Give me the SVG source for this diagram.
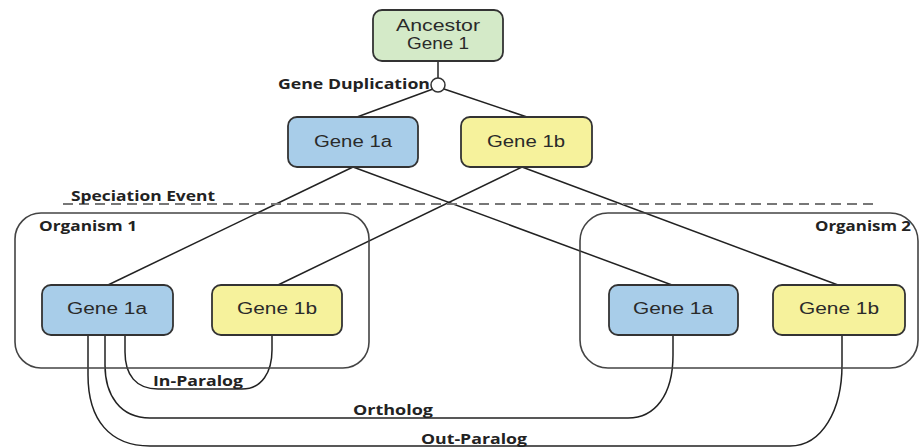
<svg xmlns="http://www.w3.org/2000/svg" width="921" height="447" viewBox="0 0 921 447">
  <style>
    .gene { stroke: #333; stroke-width: 1.8; }
    .anc { fill: #d4eac8; }
    .a { fill: #a8cde9; }
    .b { fill: #f6f29c; }
    .org { fill: none; stroke: #444; stroke-width: 1.6; }
    .link { fill: none; stroke: #222; stroke-width: 1.5; }
    .ntext { font-family: "Liberation Sans", Arial, sans-serif; font-size: 16px; fill: #2a2a2a; text-anchor: middle; }
    .lbl { font-family: "Open Sans", "Liberation Sans", sans-serif; font-weight: bold; font-size: 14px; fill: #222; }
  </style>

  <!-- connectors -->
  <g id="connectors">
    <line class="link" x1="438" y1="61" x2="438" y2="78"/>
    <line class="link" x1="433" y1="89" x2="357" y2="117"/>
    <line class="link" x1="444" y1="89" x2="527" y2="117"/>
    <line class="link" x1="353" y1="167" x2="108" y2="285"/>
    <line class="link" x1="353" y1="167" x2="672" y2="285"/>
    <line class="link" x1="522" y1="167" x2="278" y2="285"/>
    <line class="link" x1="522" y1="167" x2="838" y2="285"/>
    <!-- homology arcs -->
    <path class="link" d="M125,335 L125,352 C125,375 136,389 158,389 L242,389 C262,389 272,372 272,350 L272,335"/>
    <path class="link" d="M105,335 L105,365 C105,395 120,418 150,418 L628,418 C655,418 673,395 673,355 L673,335"/>
    <path class="link" d="M88,335 L88,375 C88,420 110,446 150,446 L790,446 C822,446 842,410 842,365 L842,335"/>
  </g>

  <!-- speciation divider -->
  <line x1="63" y1="204" x2="877" y2="204" stroke="#777" stroke-width="2" stroke-dasharray="10 6"/>
  <text class="lbl" x="71" y="201" textLength="144" lengthAdjust="spacingAndGlyphs">Speciation Event</text>

  <!-- organisms -->
  <g id="organism1">
    <rect class="org" x="15" y="213" width="354" height="155" rx="26"/>
    <text class="lbl" x="39" y="231" textLength="98" lengthAdjust="spacingAndGlyphs">Organism 1</text>
  </g>
  <g id="organism2">
    <rect class="org" x="580" y="213" width="338" height="155" rx="28"/>
    <text class="lbl" x="815" y="231" textLength="96" lengthAdjust="spacingAndGlyphs">Organism 2</text>
  </g>

  <!-- ancestral gene and duplication -->
  <g id="ancestor">
    <rect class="gene anc" x="373" y="10" width="130" height="51" rx="9"/>
    <text class="ntext" x="438" y="31" textLength="84" lengthAdjust="spacingAndGlyphs">Ancestor</text>
    <text class="ntext" x="438" y="49" textLength="62" lengthAdjust="spacingAndGlyphs">Gene 1</text>
  </g>
  <g id="duplication">
    <circle cx="438" cy="85" r="7" fill="#fff" stroke="#333" stroke-width="1.5"/>
    <text class="lbl" x="278" y="89" textLength="152" lengthAdjust="spacingAndGlyphs">Gene Duplication</text>
  </g>

  <g id="gene1a">
    <rect class="gene a" x="288" y="117" width="130" height="50" rx="9"/>
    <text class="ntext" x="353" y="147" textLength="78" lengthAdjust="spacingAndGlyphs">Gene 1a</text>
  </g>
  <g id="gene1b">
    <rect class="gene b" x="461" y="117" width="131" height="50" rx="9"/>
    <text class="ntext" x="526" y="147" textLength="78" lengthAdjust="spacingAndGlyphs">Gene 1b</text>
  </g>

  <g id="org1-gene1a">
    <rect class="gene a" x="42" y="285" width="131" height="50" rx="9"/>
    <text class="ntext" x="107" y="314" textLength="80" lengthAdjust="spacingAndGlyphs">Gene 1a</text>
  </g>
  <g id="org1-gene1b">
    <rect class="gene b" x="212" y="285" width="130" height="50" rx="9"/>
    <text class="ntext" x="277" y="314" textLength="80" lengthAdjust="spacingAndGlyphs">Gene 1b</text>
  </g>
  <g id="org2-gene1a">
    <rect class="gene a" x="609" y="285" width="129" height="50" rx="9"/>
    <text class="ntext" x="673" y="314" textLength="80" lengthAdjust="spacingAndGlyphs">Gene 1a</text>
  </g>
  <g id="org2-gene1b">
    <rect class="gene b" x="773" y="285" width="132" height="50" rx="9"/>
    <text class="ntext" x="839" y="314" textLength="80" lengthAdjust="spacingAndGlyphs">Gene 1b</text>
  </g>

  <!-- relationship labels -->
  <text class="lbl" x="153" y="386" textLength="90" lengthAdjust="spacingAndGlyphs">In-Paralog</text>
  <text class="lbl" x="353" y="415" textLength="80" lengthAdjust="spacingAndGlyphs">Ortholog</text>
  <text class="lbl" x="421" y="444" textLength="106" lengthAdjust="spacingAndGlyphs">Out-Paralog</text>
</svg>
